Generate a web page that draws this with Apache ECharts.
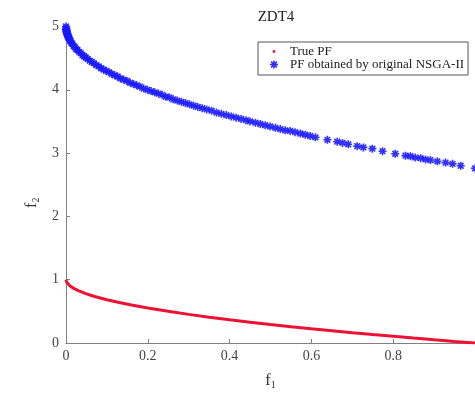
<!DOCTYPE html>
<html>
<head>
<meta charset="utf-8">
<script src="https://cdn.jsdelivr.net/npm/echarts@6/dist/echarts.min.js"></script>
<style>
  html, body { margin: 0; padding: 0; background: #fff; }
  #chart { width: 475px; height: 396px; }
</style>
</head>
<body>
<div id="chart"></div>
<script>
// True Pareto front of ZDT4 (f2 = 1 - sqrt(f1))
const trueF1 = [0, 0.002, 0.005, 0.01, 0.02, 0.03, 0.05, 0.07, 0.1, 0.13, 0.16, 0.2, 0.25, 0.3, 0.35, 0.4, 0.45, 0.5, 0.55, 0.6, 0.65, 0.7, 0.75, 0.8, 0.85, 0.9, 0.95, 1.0];
const trueF2 = [1.0, 0.955, 0.929, 0.9, 0.859, 0.827, 0.776, 0.735, 0.684, 0.639, 0.6, 0.553, 0.5, 0.452, 0.408, 0.368, 0.329, 0.293, 0.258, 0.225, 0.194, 0.163, 0.134, 0.106, 0.078, 0.051, 0.025, 0.0];

// Front reached by the original NSGA-II
const nsgaF1 = [
  0, 0, 0.0003, 0.0006, 0.001, 0.001, 0.0015, 0.002, 0.002, 0.003, 0.004, 0.004, 0.005, 0.006, 0.007, 0.008,
  0.009, 0.011, 0.013, 0.016, 0.019, 0.022, 0.025, 0.028, 0.032, 0.036, 0.040, 0.044, 0.048, 0.053, 0.058,
  0.063, 0.068, 0.074, 0.080, 0.086, 0.092, 0.098, 0.105, 0.112, 0.119, 0.126, 0.133, 0.141, 0.149, 0.157,
  0.165, 0.173, 0.181, 0.190, 0.199, 0.208, 0.217, 0.226, 0.235, 0.244, 0.253, 0.262, 0.272, 0.282, 0.292,
  0.302, 0.312, 0.322, 0.333, 0.344, 0.356, 0.368, 0.380, 0.392, 0.404, 0.416, 0.428, 0.440,
  0.450, 0.463, 0.475, 0.487, 0.499, 0.512, 0.524, 0.536, 0.548, 0.560, 0.573, 0.585, 0.597, 0.610,
  0.639, 0.663, 0.676, 0.690, 0.712, 0.727, 0.749, 0.774, 0.805, 0.830, 0.842, 0.854, 0.867, 0.879,
  0.891, 0.908, 0.928, 0.945, 0.965, 1.0
];
const nsgaF2 = [
  5.00, 4.97, 4.95, 4.94, 4.92, 4.96, 4.91, 4.89, 4.93, 4.88, 4.86, 4.89, 4.84, 4.83, 4.81, 4.82,
  4.79, 4.77, 4.74, 4.72, 4.69, 4.67, 4.64, 4.63, 4.60, 4.58, 4.55, 4.53, 4.51, 4.49, 4.46,
  4.44, 4.42, 4.39, 4.37, 4.34, 4.32, 4.30, 4.28, 4.25, 4.23, 4.21, 4.18, 4.16, 4.14, 4.11,
  4.09, 4.07, 4.05, 4.02, 4.00, 3.98, 3.96, 3.94, 3.92, 3.89, 3.88, 3.85, 3.83, 3.81, 3.79,
  3.77, 3.75, 3.73, 3.71, 3.69, 3.67, 3.64, 3.62, 3.60, 3.58, 3.56, 3.54, 3.52,
  3.50, 3.48, 3.46, 3.44, 3.42, 3.40, 3.38, 3.36, 3.35, 3.33, 3.31, 3.29, 3.27, 3.25,
  3.21, 3.18, 3.16, 3.14, 3.11, 3.09, 3.07, 3.03, 2.99, 2.96, 2.95, 2.93, 2.92, 2.90,
  2.89, 2.87, 2.85, 2.83, 2.80, 2.76
];

const xTicks = [0, 0.2, 0.4, 0.6, 0.8, 1];
const yTicks = [0, 1, 2, 3, 4, 5];

const serif = '"Liberation Serif", "DejaVu Serif", serif';
const axisGrey = '#808080';
const red = '#ee1133';
const blue = '#1a1aff';

// asterisk-like marker
const asterisk = 'path://M-2,-10 L2,-10 L2,10 L-2,10 Z M-10,-2 L10,-2 L10,2 L-10,2 Z ' +
  'M-8.5,-5.7 L-5.7,-8.5 L8.5,5.7 L5.7,8.5 Z M5.7,-8.5 L8.5,-5.7 L-5.7,8.5 L-8.5,5.7 Z';
// small dot inside a wider (empty) frame, so the legend shows a tiny point
const smallDot = 'path://M-10,-10 M10,10 M-3.5,0 A3.5,3.5 0 1 1 3.5,0 A3.5,3.5 0 1 1 -3.5,0 Z';

const zip = (a, b) => a.map((v, i) => [v, b[i]]);

const chart = echarts.init(document.getElementById('chart'), null, { renderer: 'canvas' });
chart.setOption({
  animation: false,
  backgroundColor: '#ffffff',
  title: {
    text: 'ZDT4',
    left: 271,
    top: 5,
    textAlign: 'center',
    textStyle: { fontFamily: serif, fontSize: 15, fontWeight: 'normal', color: '#222' }
  },
  legend: {
    orient: 'vertical',
    left: 258,
    top: 42,
    backgroundColor: '#fff',
    borderColor: '#555',
    borderWidth: 1,
    padding: [3, 4, 4, 12],
    itemGap: 0,
    itemWidth: 8,
    itemHeight: 8,
    textStyle: { fontFamily: serif, fontSize: 13, color: '#222', lineHeight: 12, padding: [0, 0, 0, 7] },
    data: [
      { name: 'True PF', icon: smallDot, itemStyle: { color: red } },
      { name: 'PF obtained by original NSGA-II', icon: asterisk }
    ]
  },
  grid: { left: 66, right: 0, top: 26.5, bottom: 53, containLabel: false },
  xAxis: {
    type: 'value',
    min: xTicks[0],
    max: xTicks[xTicks.length - 1],
    interval: 0.2,
    name: '{f|f}{s|1}',
    nameLocation: 'middle',
    nameGap: 28,
    nameTextStyle: {
      rich: {
        f: { fontFamily: serif, fontSize: 16, color: '#333' },
        s: { fontFamily: serif, fontSize: 10, color: '#333', padding: [9, 0, 0, 0] }
      }
    },
    axisLine: { lineStyle: { color: axisGrey, width: 1 } },
    axisTick: { inside: true, length: 4, lineStyle: { color: axisGrey } },
    axisLabel: {
      showMaxLabel: false,
      margin: 6,
      fontFamily: serif, fontSize: 14, color: '#444',
      formatter: v => String(Math.round(v * 10) / 10)
    },
    splitLine: { show: false }
  },
  yAxis: {
    type: 'value',
    min: yTicks[0],
    max: yTicks[yTicks.length - 1],
    interval: 1,
    name: '{f|f}{s|2}',
    nameLocation: 'middle',
    nameGap: 24,
    nameRotate: 90,
    nameTextStyle: {
      padding: [0, 0, 0, -36],
      rich: {
        f: { fontFamily: serif, fontSize: 16, color: '#333' },
        s: { fontFamily: serif, fontSize: 10, color: '#333', padding: [9, 0, 0, 0] }
      }
    },
    axisLine: { show: true, lineStyle: { color: axisGrey, width: 1 } },
    axisTick: { show: true, inside: true, length: 4, lineStyle: { color: axisGrey } },
    axisLabel: { margin: 7, fontFamily: serif, fontSize: 14, color: '#444' },
    splitLine: { show: false }
  },
  series: [
    {
      name: 'True PF',
      type: 'line',
      data: zip(trueF1, trueF2),
      showSymbol: false,
      clip: true,
      lineStyle: { color: red, width: 3 },
      itemStyle: { color: red },
      z: 3
    },
    {
      name: 'PF obtained by original NSGA-II',
      type: 'scatter',
      data: zip(nsgaF1, nsgaF2),
      symbol: asterisk,
      symbolSize: 8,
      clip: false,
      itemStyle: { color: blue, opacity: 0.9 },
      z: 4
    }
  ]
});
</script>
</body>
</html>
